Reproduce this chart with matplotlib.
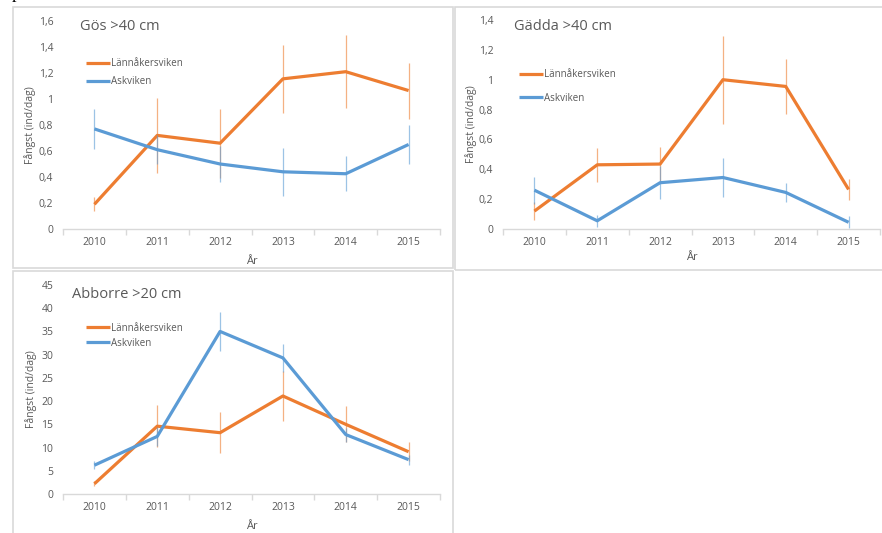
import matplotlib.pyplot as plt
from matplotlib.patches import Rectangle
from matplotlib.ticker import FixedLocator, FuncFormatter

plt.rcParams['font.family'] = ['Open Sans', 'DejaVu Sans']

years = ['2010', '2011', '2012', '2013', '2014', '2015']
sites = ['Lännåkersviken', 'Askviken']

gos_lann = [0.19, 0.72, 0.66, 1.155, 1.21, 1.065]
gos_lann_err = [0.055, 0.29, 0.265, 0.26, 0.28, 0.215]
gos_ask = [0.77, 0.61, 0.50, 0.44, 0.425, 0.65]
gos_ask_err = [0.155, 0.11, 0.135, 0.185, 0.135, 0.15]

gadda_lann = [0.12, 0.43, 0.435, 1.0, 0.955, 0.265]
gadda_lann_err = [0.06, 0.115, 0.115, 0.295, 0.185, 0.07]
gadda_ask = [0.26, 0.055, 0.31, 0.345, 0.245, 0.045]
gadda_ask_err = [0.09, 0.04, 0.11, 0.13, 0.065, 0.04]

abborre_lann = [2.2, 14.6, 13.2, 21.1, 15.0, 9.1]
abborre_lann_err = [0.5, 4.5, 4.4, 5.4, 3.9, 2.0]
abborre_ask = [6.2, 12.4, 35.0, 29.3, 12.8, 7.4]
abborre_ask_err = [0.8, 2.0, 4.2, 3.0, 1.5, 1.1]

ORANGE = '#ED7D31'
BLUE = '#5B9BD5'
GRAY = '#595959'
LIGHT = '#D9D9D9'

W, H = 882, 533


def px_rect(x0, y0, x1, y1):
    # pixel box (top-left origin) -> figure fraction
    return [x0 / W, 1 - y1 / H, (x1 - x0) / W, (y1 - y0) / H]


def draw_panel(fig, box, title, lann, lann_err, ask, ask_err, ymax, ystep,
               title_xy, legend_xy, legend_gap, ylabel_x, xlabel_y):
    ax = fig.add_axes(px_rect(*box))
    x = list(range(len(years)))
    for vals, err, color, name in [(lann, lann_err, ORANGE, sites[0]),
                                   (ask, ask_err, BLUE, sites[1])]:
        ax.errorbar(x, vals, yerr=err, fmt='none', ecolor=color,
                    elinewidth=0.9, capsize=0, alpha=0.6)
        ax.plot(x, vals, color=color, lw=2.3, solid_capstyle='butt', label=name)

    ax.set_xlim(-0.5, len(years) - 0.5)
    ax.set_ylim(0, ymax)
    ax.set_xticks(x)
    ax.set_xticklabels(years)
    ax.xaxis.set_minor_locator(FixedLocator([i - 0.5 for i in range(len(years) + 1)]))
    ticks = [i * ystep for i in range(int(round(ymax / ystep)) + 1)]
    ax.set_yticks(ticks)
    ax.yaxis.set_major_formatter(FuncFormatter(lambda v, _: f'{v:g}'.replace('.', ',')))

    for side in ['left', 'top', 'right']:
        ax.spines[side].set_visible(False)
    ax.spines['bottom'].set_color(LIGHT)
    ax.spines['bottom'].set_linewidth(1)
    ax.tick_params(axis='x', which='major', length=0, pad=6, labelsize=7.5, labelcolor=GRAY)
    ax.tick_params(axis='x', which='minor', length=4, width=1, color=LIGHT)
    ax.tick_params(axis='y', length=0, pad=7, labelsize=7.5, labelcolor=GRAY)

    ax.set_ylabel('Fångst (ind/dag)', fontsize=7.5, color=GRAY)
    ax.yaxis.set_label_coords(ylabel_x, 0.5)
    ax.set_xlabel('År', fontsize=8, color=GRAY)
    ax.xaxis.set_label_coords(0.5, xlabel_y)

    ax.text(title_xy[0], title_xy[1], title, transform=ax.transAxes,
            fontsize=10.5, color=GRAY, va='center', ha='left')

    ax.legend(loc='center left', bbox_to_anchor=legend_xy, frameon=False,
              fontsize=7, labelcolor=GRAY, handlelength=2.5, handletextpad=0.1,
              borderpad=0, borderaxespad=0, labelspacing=legend_gap)
    return ax


fig = plt.figure(figsize=(W / 100, H / 100), dpi=100)

# light panel frames around each chart
for x0, y0, x1, y1 in [(13, 7, 453, 268), (455, 7, 890, 270), (13, 271, 453, 540)]:
    fig.patches.append(Rectangle((x0 / W, 1 - y1 / H), (x1 - x0) / W, (y1 - y0) / H,
                                 transform=fig.transFigure, fill=False,
                                 edgecolor=LIGHT, lw=1.2))

fig.text(12 / W, 1 + 2 / H, 'p', fontsize=13, family='Liberation Serif',
         color='black', va='baseline', ha='left')

draw_panel(fig, (63, 21, 440, 229), 'Gös >40 cm', gos_lann, gos_lann_err,
           gos_ask, gos_ask_err, 1.6, 0.2,
           (0.045, 0.974), (0.061, 0.752), 0.75, -0.072, -0.128)
draw_panel(fig, (503, 20, 880, 229), 'Gädda >40 cm', gadda_lann, gadda_lann_err,
           gadda_ask, gadda_ask_err, 1.4, 0.2,
           (0.029, 0.968), (0.042, 0.682), 1.25, -0.068, -0.108)
draw_panel(fig, (63, 285, 440, 494), 'Abborre >20 cm', abborre_lann, abborre_lann_err,
           abborre_ask, abborre_ask_err, 45, 5,
           (0.024, 0.955), (0.061, 0.758), 0.42, -0.07, -0.128)

fig.savefig('out.png', dpi=100)
plt.close(fig)
